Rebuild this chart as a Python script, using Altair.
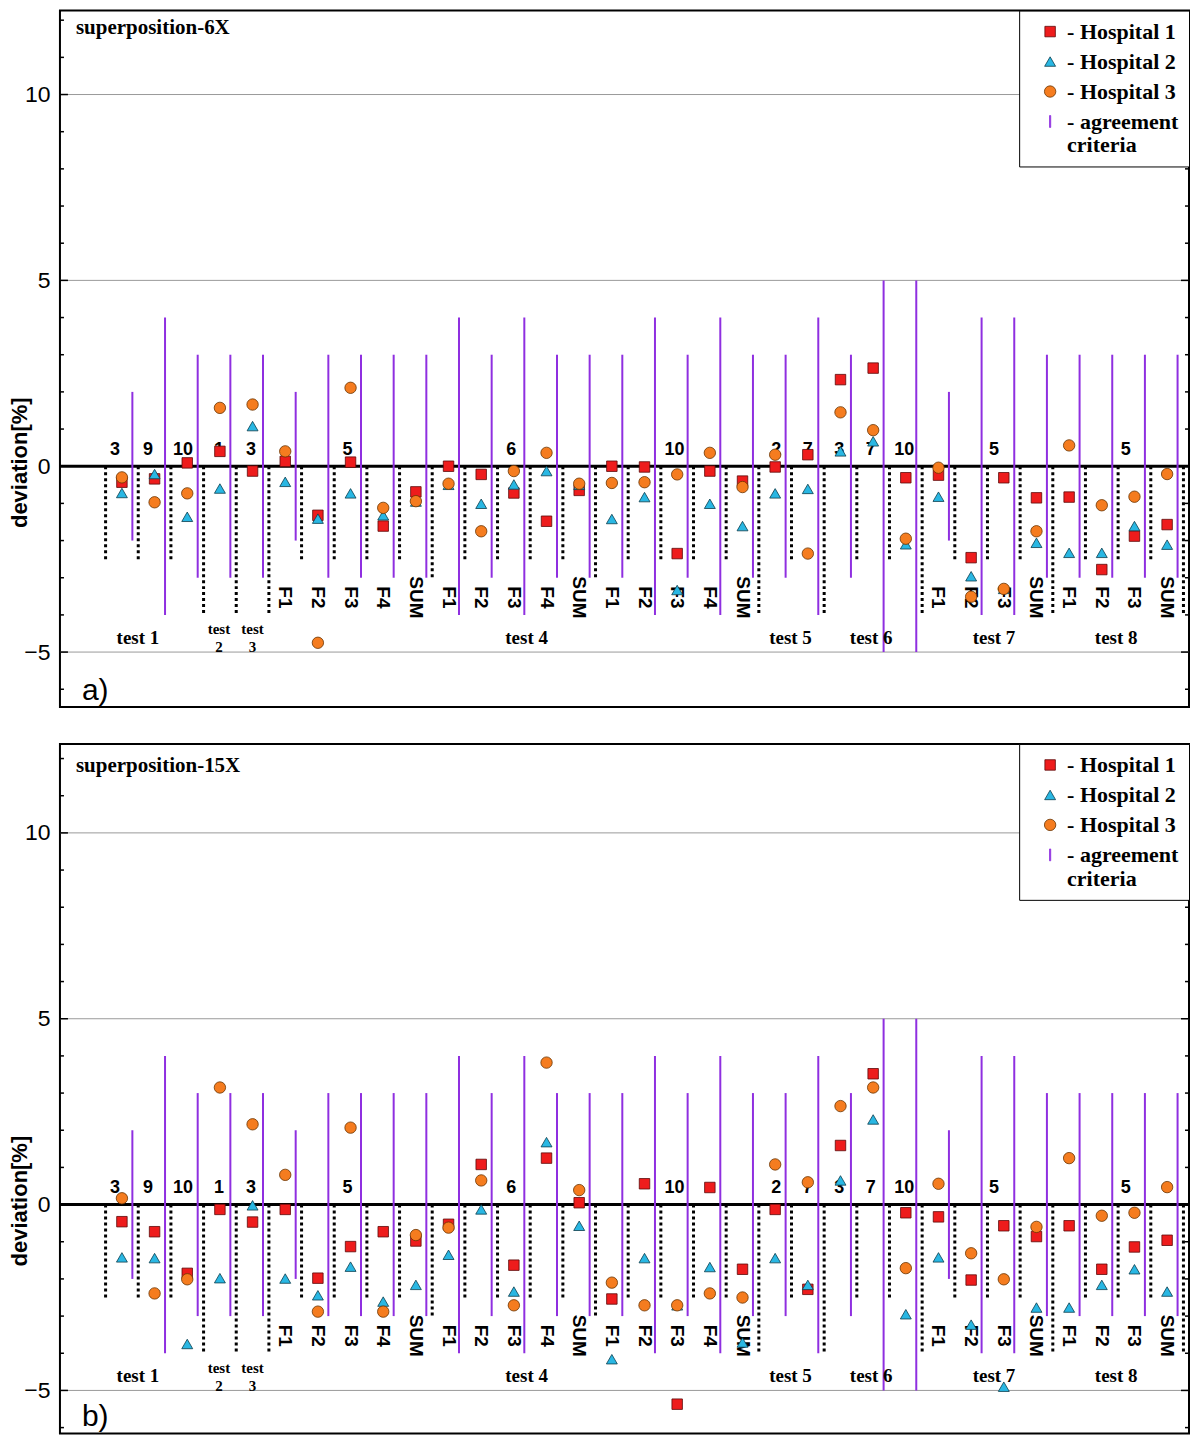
import altair as alt
import pandas as pd

# ---------------- data ----------------
columns = list(range(1, 34))
column_labels = ["", "", "", "", "",
                 "F1", "F2", "F3", "F4", "SUM",
                 "F1", "F2", "F3", "F4", "SUM",
                 "F1", "F2", "F3", "F4", "SUM",
                 "", "", "", "", "",
                 "F1", "F2", "F3", "SUM",
                 "F1", "F2", "F3", "SUM"]
criteria = [2, 4, 3, 3, 3, 2, 3, 3, 3, 3, 4, 3, 4, 3, 3, 3, 4,
            3, 4, 3, 3, 4, 3, 5, 5, 2, 4, 4, 3, 3, 3, 3, 3]
boundary_x = [0.5, 1.5, 2.5, 3.5, 4.5, 5.5, 6.5, 7.5, 8.5, 9.5, 10.5, 11.5,
              12.5, 13.5, 14.5, 15.5, 16.5, 17.5, 18.5, 19.5, 20.5, 21.5,
              22.5, 23.5, 24.5, 25.5, 26.5, 27.5, 28.5, 29.5, 30.5, 31.5,
              32.5, 33.5]
boundary_end = [-2.5, -2.5, -2.5, -4, -4, -4, -2.5, -2.5, -2.5, -2.5, -3,
                -2.5, -2.5, -2.5, -2.5, -3, -2.5, -2.5, -2.5, -2.5, -4, -2.5,
                -4, -2.5, -2.5, -4, -2.5, -2.5, -2.5, -4, -2.5, -2.5, -2.5, -4]

# superposition-6X
h1_6x = [-0.43, -0.34, 0.09, 0.40, -0.13, 0.13, -1.32, 0.11, -1.61, -0.69,
         0.00, -0.22, -0.72, -1.48, -0.65, 0.00, -0.02, -2.35, -0.13, -0.40,
         -0.02, 0.31, 2.33, 2.64, -0.31, -0.24, -2.46, -0.31, -0.85, -0.83,
         -2.78, -1.88, -1.57]
h2_6x = [-0.72, -0.21, -1.36, -0.60, 1.08, -0.42, -1.41, -0.73, -1.32, -0.95,
         -0.50, -1.01, -0.49, -0.13, -0.50, -1.42, -0.83, -3.33, -1.01, -1.61,
         -0.73, -0.61, 0.40, 0.67, -2.10, -0.82, -2.96, -3.30, -2.06, -2.33,
         -2.33, -1.61, -2.11]
h3_6x = [-0.30, -0.97, -0.73, 1.57, 1.66, 0.40, -4.75, 2.11, -1.12, -0.94,
         -0.47, -1.75, -0.13, 0.36, -0.47, -0.45, -0.43, -0.22, 0.36, -0.56,
         0.31, -2.35, 1.45, 0.97, -1.95, -0.04, -3.51, -3.30, -1.75, 0.56,
         -1.05, -0.82, -0.21]

# superposition-15X
h1_15x = [-0.46, -0.73, -1.85, -0.13, -0.47, -0.13, -1.98, -1.13, -0.73, -0.98,
          -0.53, 1.08, -1.63, 1.25, 0.05, -2.54, 0.56, -5.37, 0.46, -1.74,
          -0.13, -2.28, 1.59, 3.52, -0.22, -0.33, -2.03, -0.57, -0.86, -0.57,
          -1.74, -1.14, -0.96]
h2_15x = [-1.42, -1.44, -3.75, -1.98, -0.02, -1.99, -2.44, -1.67, -2.61, -2.16,
          -1.35, -0.13, -2.34, 1.68, -0.57, -4.16, -1.44, -2.71, -1.68, -3.71,
          -1.44, -2.16, 0.65, 2.29, -2.95, -1.42, -3.23, -4.90, -2.77, -2.77,
          -2.16, -1.74, -2.34]
h3_15x = [0.17, -2.39, -2.01, 3.15, 2.16, 0.80, -2.88, 2.07, -2.88, -0.82,
          -0.62, 0.65, -2.71, 3.82, 0.39, -2.10, -2.71, -2.71, -2.39, -2.50,
          1.08, 0.60, 2.65, 3.15, -1.71, 0.56, -1.31, -2.01, -0.60, 1.25,
          -0.30, -0.22, 0.47]

number_labels = ["3", "9", "10", "1", "3", "5", "6", "10", "2", "7", "3", "7",
                 "10", "5", "5"]
number_x = [0.79, 1.80, 2.87, 3.97, 4.95, 7.91, 12.92, 17.92, 21.03, 22.0,
            22.96, 23.93, 24.95, 27.7, 31.73]
test_labels = ["test 1", "test 4", "test 5", "test 6", "test 7", "test 8"]
test_x = [1.49, 13.39, 21.47, 23.94, 27.7, 31.44]
small_test_labels = ["test\n2", "test\n3"]
small_test_x = [3.97, 5.0]

axis_label_values = [-5, 0, 5, 10]
grid_values = [-5, 5, 10]
major_ticks = [-5, 0, 5, 10]
minor_ticks = [-6, -4, -3, -2, -1, 1, 2, 3, 4, 6, 7, 8, 9, 11, 12]

series_names = ["- Hospital 1", "- Hospital 2", "- Hospital 3",
                "- agreement criteria"]

# ---------------- styles ----------------
shapes = ["square", "triangle-up", "circle",
          "M-0.1,-1L0.1,-1L0.1,1L-0.1,1Z"]
fills = ["#ee1c1c", "#29b7e3", "#f57c1f", "#8f2fe0"]
strokes = ["#5c0a0a", "#0d3d4d", "#6a3300", "#8f2fe0"]
sizes = [110, 140, 185, 420]
PURPLE = "#8f2fe0"

W = 1130
X_DOMAIN = [-0.897, 33.67]
NUM_Y = 0.3
FLAB_Y = -3.53
TEST_Y = -4.77
SMALL_TEST_Y = -4.52
TITLE_Y = 11.64
TITLE_X = -0.407
CRIT_DX = 0.32

SANS = "Liberation Sans"
SERIF = "Liberation Serif"


def panel(h1, h2, h3, ydom, H, title, letter):
    xs = alt.Scale(domain=X_DOMAIN, nice=False, zero=False)
    ys = alt.Scale(domain=ydom, nice=False, zero=False)
    zero_px = H * ydom[1] / (ydom[1] - ydom[0])
    yaxis = alt.Axis(values=axis_label_values, ticks=False, domain=False,
                     grid=False, labelFont=SANS, labelFontSize=23,
                     labelColor="black", labelPadding=10,
                     title="deviation[%]", titleFont=SANS, titleFontSize=22,
                     titleFontWeight="bold", titleColor="black",
                     titleX=-40, titleY=zero_px - 4, titleAlign="center",
                     titleBaseline="middle", titleAngle=270)

    def X(f):
        return alt.X(f, type="quantitative", scale=xs, axis=None)

    def Y(f):
        return alt.Y(f, type="quantitative", scale=ys, axis=yaxis)

    grid = alt.Chart(pd.DataFrame({"v": grid_values})).mark_rule(
        color="#9a9a9a", strokeWidth=1).encode(
        y=Y("v"), x=alt.value(0), x2=alt.value(W))

    tmaj = pd.DataFrame({"v": major_ticks})
    tmin = pd.DataFrame({"v": minor_ticks})
    ticks = [
        alt.Chart(tmaj).mark_rule(color="black", strokeWidth=1.5).encode(
            y=Y("v"), x=alt.value(0), x2=alt.value(8)),
        alt.Chart(tmin).mark_rule(color="black", strokeWidth=1.5).encode(
            y=Y("v"), x=alt.value(0), x2=alt.value(4)),
        alt.Chart(tmaj).mark_rule(color="black", strokeWidth=1.5).encode(
            y=Y("v"), x=alt.value(W), x2=alt.value(W - 8)),
        alt.Chart(tmin).mark_rule(color="black", strokeWidth=1.5).encode(
            y=Y("v"), x=alt.value(W), x2=alt.value(W - 4)),
    ]

    zero = alt.Chart(pd.DataFrame({"v": [0]})).mark_rule(
        color="black", strokeWidth=3).encode(
        y=Y("v"), x=alt.value(0), x2=alt.value(W))

    bdf = pd.DataFrame({"x": boundary_x, "end": boundary_end})
    bdf["start"] = 0.0
    dotted = alt.Chart(bdf).mark_rule(
        color="black", strokeWidth=3, strokeDash=[3, 3]).encode(
        x=X("x"), y=Y("start"), y2=alt.Y2("end"))

    cdf = pd.DataFrame({"col": columns, "crit": criteria})
    cdf["xp"] = cdf["col"] + CRIT_DX
    cdf["lo"] = -cdf["crit"]
    crit = alt.Chart(cdf).mark_rule(color=PURPLE, strokeWidth=2).encode(
        x=X("xp"), y=Y("lo"), y2=alt.Y2("crit"))

    ndf = pd.DataFrame({"x": number_x, "t": number_labels})
    ndf["y"] = NUM_Y
    nums = alt.Chart(ndf).mark_text(
        font=SANS, fontSize=18, fontWeight="bold", color="black",
        align="center", baseline="alphabetic").encode(
        x=X("x"), y=Y("y"), text="t:N")

    fdf = pd.DataFrame({"x": columns, "t": column_labels})
    fdf = fdf[fdf["t"] != ""].copy()
    fdf["y"] = FLAB_Y
    flabs = alt.Chart(fdf).mark_text(
        font=SANS, fontSize=19, fontWeight="bold", color="black",
        align="center", baseline="middle", angle=90).encode(
        x=X("x"), y=Y("y"), text="t:N")

    tdf = pd.DataFrame({"x": test_x, "t": test_labels})
    tdf["y"] = TEST_Y
    tests = alt.Chart(tdf).mark_text(
        font=SERIF, fontSize=19, fontWeight="bold", color="black",
        align="center", baseline="alphabetic").encode(
        x=X("x"), y=Y("y"), text="t:N")

    sdf = pd.DataFrame({"x": small_test_x, "t": small_test_labels})
    sdf["y"] = SMALL_TEST_Y
    stests = alt.Chart(sdf).mark_text(
        font=SERIF, fontSize=15, fontWeight="bold", color="black",
        align="center", baseline="alphabetic", lineBreak="\n",
        lineHeight=18).encode(
        x=X("x"), y=Y("y"), text="t:N")

    ttl = alt.Chart(pd.DataFrame({"x": [TITLE_X], "y": [TITLE_Y],
                                  "t": [title]})).mark_text(
        font=SERIF, fontSize=21, fontWeight="bold", color="black",
        align="left", baseline="alphabetic").encode(
        x=X("x"), y=Y("y"), text="t:N")

    let = alt.Chart(pd.DataFrame({"t": [letter]})).mark_text(
        font=SANS, fontSize=30, color="black", align="left",
        baseline="alphabetic").encode(
        x=alt.value(22), y=alt.value(H - 7), text="t:N")

    leg = alt.Legend(
        title=None, orient="top-right", offset=0, padding=10,
        fillColor="white", strokeColor="black",
        labelFont=SERIF, labelFontSize=22, labelFontWeight="bold",
        labelColor="black", labelLimit=400, labelOffset=6, rowPadding=8,
        symbolOffset=10, symbolStrokeWidth=0.8,
        labelExpr=("datum.label == '- agreement criteria' ? "
                   "['- agreement', '\u00a0\u00a0criteria'] : datum.label"))

    pdf = pd.DataFrame({
        "col": columns * 3,
        "value": list(h1) + list(h2) + list(h3),
        "series": [series_names[0]] * 33 + [series_names[1]] * 33
                  + [series_names[2]] * 33,
    })
    pts = alt.Chart(pdf).mark_point(filled=True, opacity=1,
                                    strokeWidth=0.8).encode(
        x=X("col"), y=Y("value"),
        shape=alt.Shape("series:N", scale=alt.Scale(domain=series_names,
                                                    range=shapes), legend=leg),
        fill=alt.Fill("series:N", scale=alt.Scale(domain=series_names,
                                                  range=fills), legend=leg),
        stroke=alt.Stroke("series:N", scale=alt.Scale(domain=series_names,
                                                      range=strokes),
                          legend=leg),
        size=alt.Size("series:N", scale=alt.Scale(domain=series_names,
                                                  range=sizes), legend=leg),
    )

    layers = [grid] + ticks + [zero, dotted, crit, nums, flabs, tests,
                               stests, ttl, let, pts]
    return alt.layer(*layers).properties(width=W, height=H)


pa = panel(h1_6x, h2_6x, h3_6x, [-6.478, 12.258], 697,
           "superposition-6X", "a)")
pb = panel(h1_15x, h2_15x, h3_15x, [-6.156, 12.392], 690,
           "superposition-15X", "b)")

chart = alt.vconcat(pa, pb, spacing=34).resolve_scale(
    shape="independent", fill="independent", stroke="independent",
    size="independent").resolve_legend(
    shape="independent", fill="independent", stroke="independent",
    size="independent").properties(padding=0).configure_view(
    stroke="black", strokeWidth=2)

chart.save("out.html", embed_options={"renderer": "svg", "actions": False})
